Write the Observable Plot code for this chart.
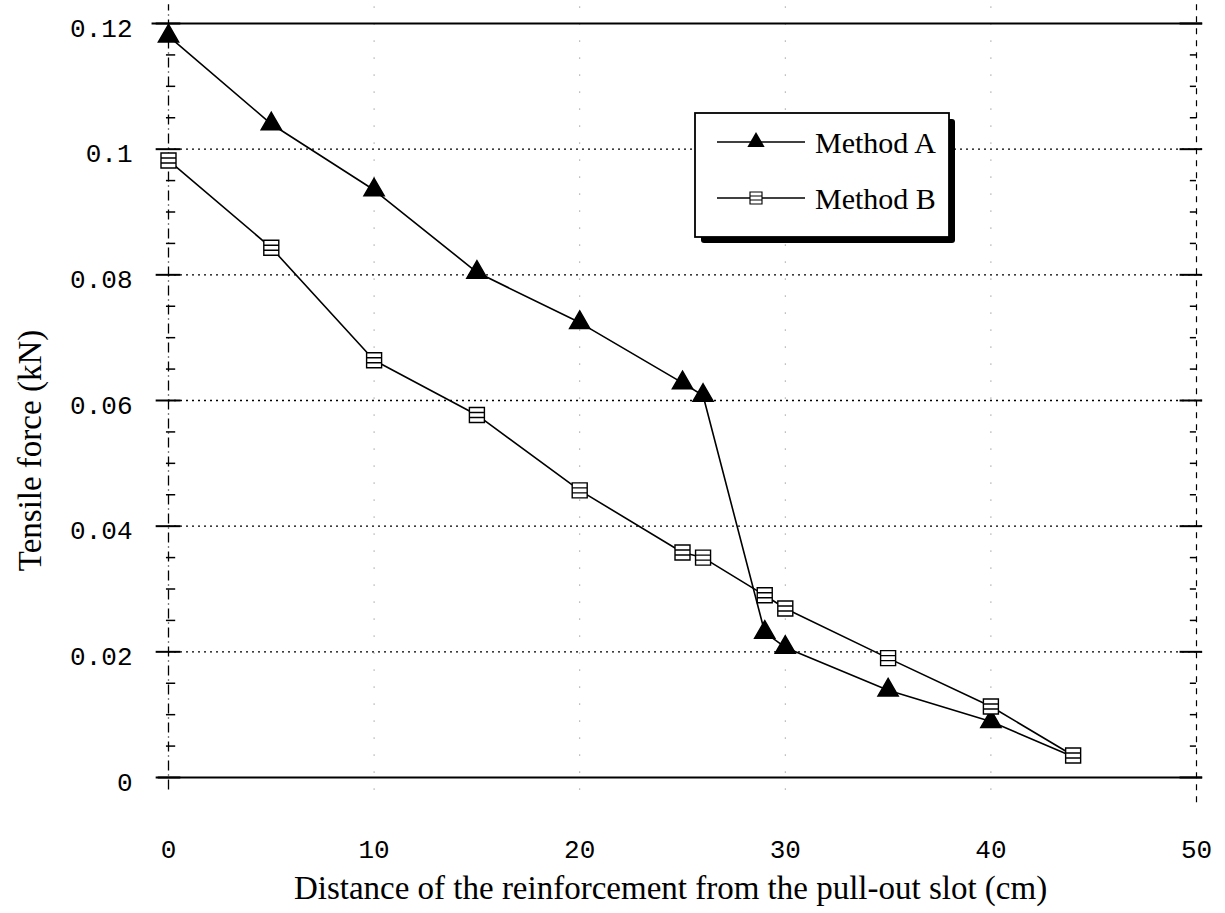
<!DOCTYPE html>
<html>
<head>
<meta charset="utf-8">
<script src="https://cdn.jsdelivr.net/npm/d3@7"></script>
<script src="https://cdn.jsdelivr.net/npm/@observablehq/plot@0.6"></script>
<style>
  html, body { margin: 0; padding: 0; background: #fff; }
  #chart { width: 1225px; height: 913px; }
</style>
</head>
<body>
<div id="chart"></div>
<script>
// ---- data ----
const distance = [0, 5, 10, 15, 20, 25, 26, 29, 30, 35, 40, 44];
const methodA = [0.118, 0.104, 0.0935, 0.0804, 0.0724, 0.0628, 0.0608, 0.0231, 0.0207, 0.0139, 0.0089, 0.0033];
const methodB = [0.0982, 0.0843, 0.0664, 0.0577, 0.0457, 0.0358, 0.0350, 0.0290, 0.0269, 0.0190, 0.0113, 0.0035];
const seriesNames = ["Method A", "Method B"];
const xTicks = [0, 10, 20, 30, 40, 50];
const yTicks = [0, 0.02, 0.04, 0.06, 0.08, 0.1, 0.12];
const yMinorTicks = [0.005, 0.01, 0.015, 0.025, 0.03, 0.035, 0.045, 0.05, 0.055, 0.065, 0.07, 0.075, 0.085, 0.09, 0.095, 0.105, 0.11, 0.115];
const xLabel = "Distance of the reinforcement from the pull-out slot (cm)";
const yLabel = "Tensile force (kN)";

const rowsA = distance.map((d, i) => ({x: d, y: methodA[i], s: seriesNames[0]}));
const rowsB = distance.map((d, i) => ({x: d, y: methodB[i], s: seriesNames[1]}));

// custom "boxed double-line" marker for Method B
const boxSym = {
  draw(ctx) {
    const w = 7.5, h = 7.5;
    ctx.moveTo(-w, -h); ctx.lineTo(w, -h); ctx.lineTo(w, h); ctx.lineTo(-w, h); ctx.closePath();
    ctx.moveTo(-w, -2.5); ctx.lineTo(w, -2.5);
    ctx.moveTo(-w, 2.5); ctx.lineTo(w, 2.5);
  }
};

const mono = "'Liberation Mono', 'DejaVu Sans Mono', monospace";
const serif = "'Liberation Serif', 'DejaVu Serif', serif";
const fmt = d => String(+d.toFixed(2));

const plot = Plot.plot({
  width: 1225,
  height: 913,
  marginLeft: 168,
  marginRight: 29,
  marginTop: 23,
  marginBottom: 136,
  x: {domain: [0, 50]},
  y: {domain: [0, 0.12]},
  style: {background: "#fff", color: "#000"},
  marks: [
    // horizontal dotted grid
    Plot.ruleY(yTicks.filter(d => d > 0 && d < 0.12), {x1: 0, x2: 50.3, stroke: "#000", strokeWidth: 1.3, strokeDasharray: "2,4"}),
    // vertical sparse dotted grid
    Plot.ruleX(xTicks.filter(d => d > 0 && d < 50), {y1: -0.002, y2: 0.123, stroke: "#000", strokeWidth: 1, strokeOpacity: 0.55, strokeDasharray: "1,16"}),
    // left and right dash-dot frame sides
    Plot.ruleX([0], {y1: -0.002, y2: 0.123, stroke: "#000", strokeWidth: 1.3, strokeDasharray: "10,4,1,4"}),
    Plot.ruleX([50], {y1: -0.004, y2: 0.123, stroke: "#000", strokeWidth: 1.2, strokeDasharray: "6,6"}),
    // solid top and bottom frame
    Plot.ruleY([0], {x1: -0.5, x2: 50.3, stroke: "#000", strokeWidth: 1.8}),
    Plot.ruleY([0.12], {x1: -0.8, x2: 50.3, stroke: "#000", strokeWidth: 1.8}),
    // major tick marks left/right
    Plot.ruleY(yTicks, {x1: -0.6, x2: 0.6, stroke: "#000", strokeWidth: 2}),
    Plot.ruleY(yTicks, {x1: 49.2, x2: 50.3, stroke: "#000", strokeWidth: 2}),
    // minor ticks left (inside) and right (inside)
    Plot.ruleY(yMinorTicks, {x1: -0.1, x2: 0.35, stroke: "#000", strokeWidth: 1.5}),
    Plot.ruleY(yMinorTicks, {x1: 49.7, x2: 50, stroke: "#000", strokeWidth: 1.5}),
    // axes tick labels
    Plot.axisX(xTicks, {anchor: "bottom", tickSize: 0, tickPadding: 62, tickFormat: fmt, fontSize: 26, fontFamily: mono, label: null, letterSpacing: 1.5}),
    Plot.axisY(yTicks, {anchor: "left", tickSize: 0, tickPadding: 36, dy: 5, tickFormat: fmt, fontSize: 26, fontFamily: mono, label: null, letterSpacing: 1.5}),
    // lines
    Plot.line(rowsA, {x: "x", y: "y", stroke: "#000", strokeWidth: 1.6}),
    Plot.line(rowsB, {x: "x", y: "y", stroke: "#000", strokeWidth: 1.6}),
    // markers
    Plot.dot(rowsA.slice(0, -1), {x: "x", y: "y", symbol: "triangle", r: 7.5, fill: "#000", stroke: "#000"}),
    Plot.dot(rowsB, {x: "x", y: "y", symbol: boxSym, fill: "#fff", stroke: "#000", strokeWidth: 1.4}),
    // axis titles
    Plot.text([xLabel], {frameAnchor: "bottom", textAnchor: "middle", dx: -12, dy: 111, lineAnchor: "middle", fontSize: 33, fontFamily: serif, fill: "#000"}),
    Plot.text([yLabel], {frameAnchor: "left", textAnchor: "middle", dx: -138, dy: 50, rotate: -90, lineAnchor: "middle", fontSize: 33, fontFamily: serif, fill: "#000"})
  ]
});

document.getElementById("chart").appendChild(plot);

// ---- legend box (drawn into the plot's svg) ----
const svg = d3.select(plot);
const lg = svg.append("g").attr("class", "legend");
const bx = 695, by = 113, bw = 254, bh = 124;
// drop shadow
lg.append("rect").attr("x", bx + 6).attr("y", by + 6).attr("width", bw).attr("height", bh).attr("rx", 3).attr("fill", "#000");
lg.append("rect").attr("x", bx).attr("y", by).attr("width", bw).attr("height", bh).attr("fill", "#fff").attr("stroke", "#000").attr("stroke-width", 1.8);
const items = [
  {name: seriesNames[0], y: 142, tri: true},
  {name: seriesNames[1], y: 198, tri: false}
];
items.forEach(it => {
  lg.append("line").attr("x1", 717).attr("x2", 805).attr("y1", it.y).attr("y2", it.y).attr("stroke", "#000").attr("stroke-width", 1.5);
  if (it.tri) {
    lg.append("path").attr("d", d3.symbol(d3.symbolTriangle, 130)()).attr("transform", `translate(756,${it.y})`).attr("fill", "#000");
  } else {
    const p = d3.path(); boxSym.draw(p);
    lg.append("path").attr("d", p.toString()).attr("transform", `translate(756,${it.y}) scale(0.8)`).attr("fill", "#fff").attr("stroke", "#000").attr("stroke-width", 1.4);
  }
  lg.append("text").attr("x", 815).attr("y", it.y).attr("dy", "0.35em").attr("text-anchor", "start")
    .attr("font-family", serif).attr("font-size", 30).attr("fill", "#000").text(it.name);
});
</script>
</body>
</html>
